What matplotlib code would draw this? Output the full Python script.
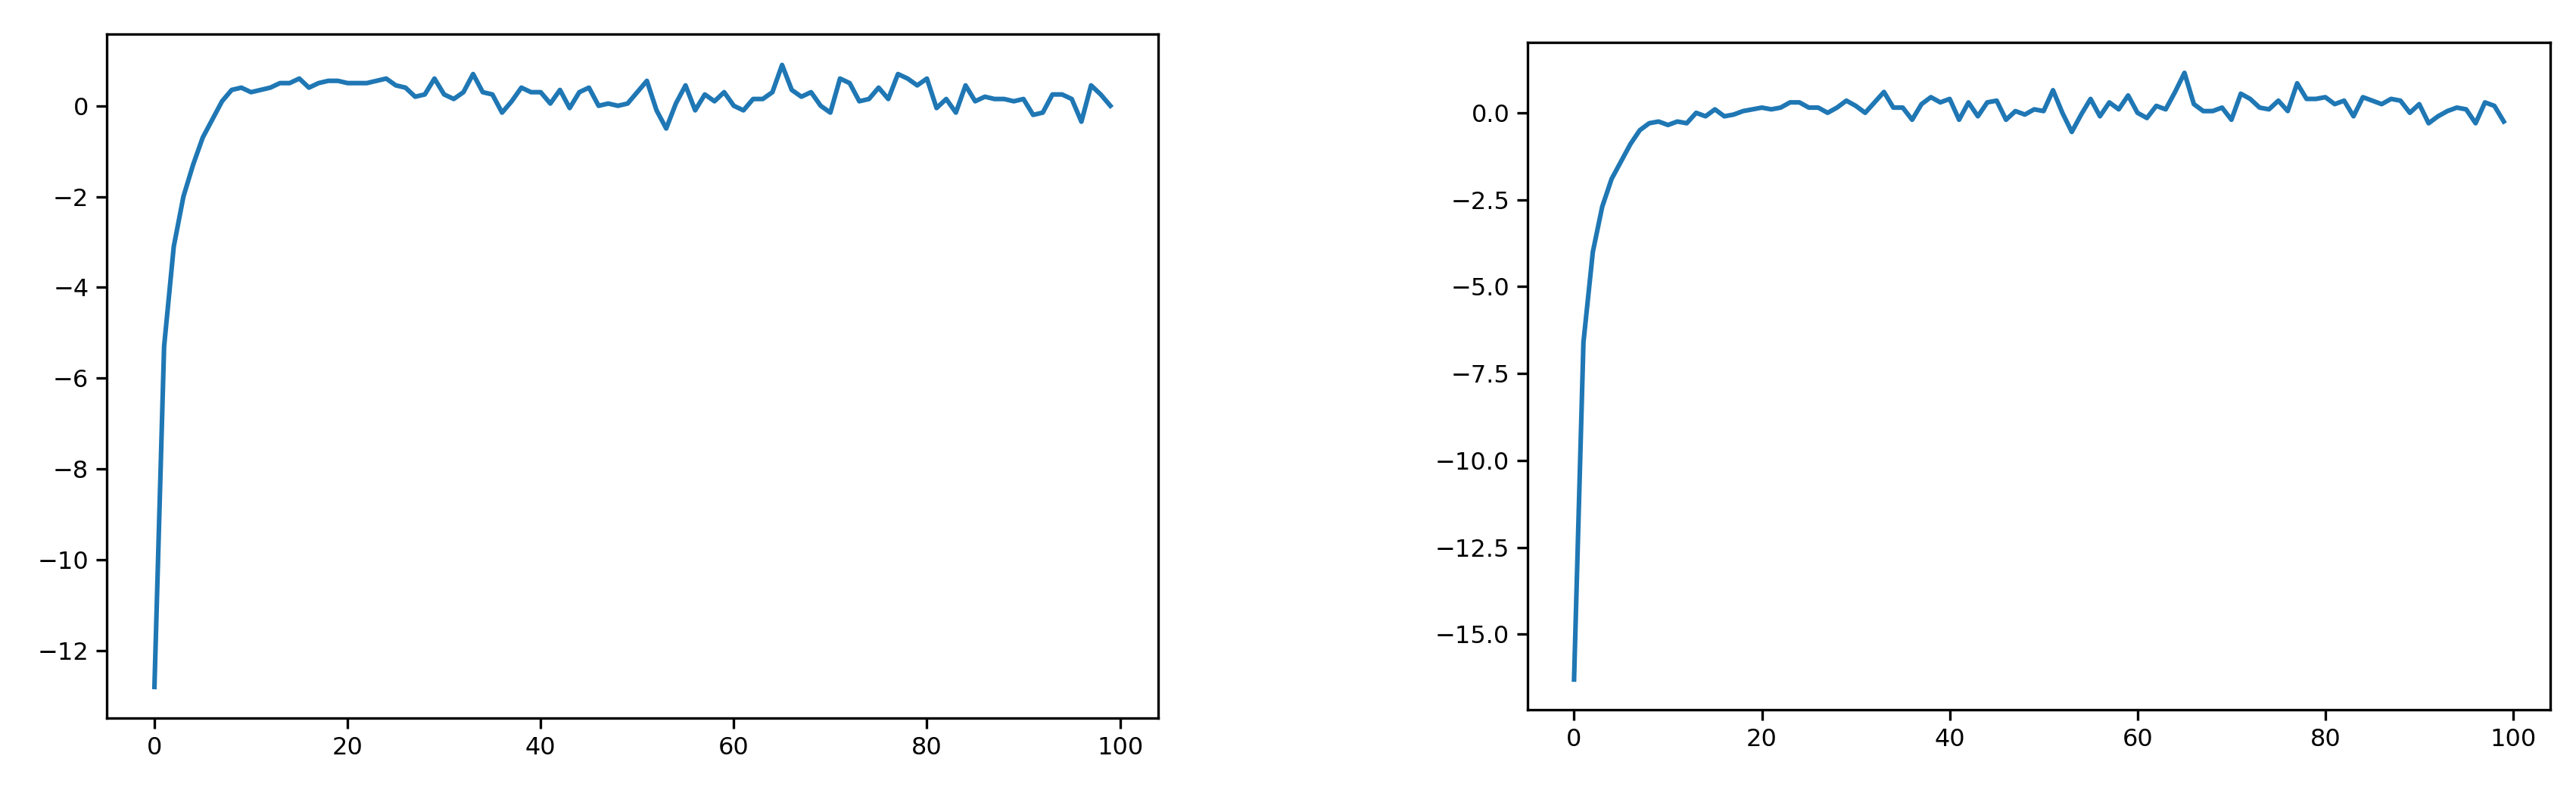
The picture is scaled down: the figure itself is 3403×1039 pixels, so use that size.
import numpy as np
import matplotlib
matplotlib.use("Agg")
import matplotlib.pyplot as plt

# values
series_left = [-12.8, -5.3, -3.1, -2.0, -1.3, -0.7, -0.3, 0.1, 0.35, 0.4,
               0.3, 0.35, 0.4, 0.5, 0.5, 0.6, 0.4, 0.5, 0.55, 0.55,
               0.5, 0.5, 0.5, 0.55, 0.6, 0.45, 0.4, 0.2, 0.25, 0.6,
               0.25, 0.15, 0.3, 0.7, 0.3, 0.25, -0.15, 0.1, 0.4, 0.3,
               0.3, 0.05, 0.35, -0.05, 0.3, 0.4, 0.0, 0.05, 0.0, 0.05,
               0.3, 0.55, -0.1, -0.5, 0.05, 0.45, -0.1, 0.25, 0.1, 0.3,
               0.0, -0.1, 0.15, 0.15, 0.3, 0.9, 0.35, 0.2, 0.3, 0.0,
               -0.15, 0.6, 0.5, 0.1, 0.15, 0.4, 0.15, 0.7, 0.6, 0.45,
               0.6, -0.05, 0.15, -0.15, 0.45, 0.1, 0.2, 0.15, 0.15, 0.1,
               0.15, -0.2, -0.15, 0.25, 0.25, 0.15, -0.35, 0.45, 0.25, 0.0]
series_right = [-16.3, -6.6, -4.0, -2.7, -1.9, -1.4, -0.9, -0.5, -0.3, -0.25,
                -0.35, -0.25, -0.3, 0.0, -0.1, 0.1, -0.1, -0.05, 0.05, 0.1,
                0.15, 0.1, 0.15, 0.3, 0.3, 0.15, 0.15, 0.0, 0.15, 0.35,
                0.2, 0.0, 0.3, 0.6, 0.15, 0.15, -0.2, 0.25, 0.45, 0.3,
                0.4, -0.2, 0.3, -0.1, 0.3, 0.35, -0.2, 0.05, -0.05, 0.1,
                0.05, 0.65, 0.0, -0.55, -0.05, 0.4, -0.1, 0.3, 0.1, 0.5,
                0.0, -0.15, 0.2, 0.1, 0.6, 1.15, 0.25, 0.05, 0.05, 0.15,
                -0.2, 0.55, 0.4, 0.15, 0.1, 0.35, 0.05, 0.85, 0.4, 0.4,
                0.45, 0.25, 0.35, -0.1, 0.45, 0.35, 0.25, 0.4, 0.35, 0.0,
                0.25, -0.3, -0.1, 0.05, 0.15, 0.1, -0.3, 0.3, 0.2, -0.25]
steps = np.arange(len(series_left))

fig = plt.figure(figsize=(17.015, 5.195), dpi=200)
ax1 = fig.add_axes([0.0414, 0.0876, 0.4082, 0.8694])
ax2 = fig.add_axes([0.593, 0.098, 0.397, 0.848])

ax1.plot(steps, series_left, color="#1f77b4", lw=2.2)
ax2.plot(steps, series_right, color="#1f77b4", lw=2.2)
for ax in (ax1, ax2):
    ax.tick_params(labelsize=11.5, width=1.2, length=5)
    for sp in ax.spines.values():
        sp.set_linewidth(1.2)
    ax.set_xticks([0, 20, 40, 60, 80, 100])

fig.savefig("out.png", dpi=200)
